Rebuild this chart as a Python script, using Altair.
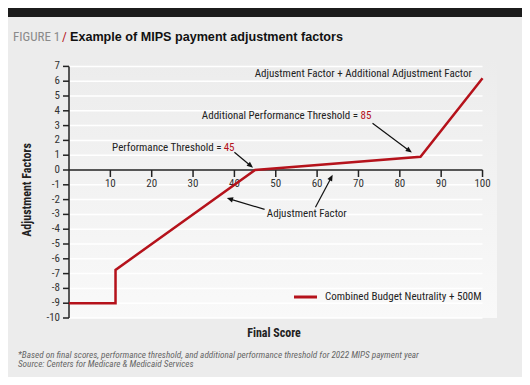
import math
import altair as alt
import pandas as pd

# ---------------- data ----------------
scores = [0, 11.25, 11.25, 45, 85, 100]
factors = [-9, -9, -6.75, 0, 0.9, 6.2]

x_ticks = [10, 20, 30, 40, 50, 60, 70, 80, 90, 100]
y_ticks = list(range(-10, 8))
grid_y = [v for v in y_ticks if v != 0]

# annotation arrows (data units): start -> end
arrow_x1 = [40.0, 73.4, 47.3, 59.6]
arrow_y1 = [1.2, 3.16, -2.66, -2.52]
arrow_x2 = [44.4, 82.8, 38.3, 63.7]
arrow_y2 = [0.18, 1.2, -1.91, -0.36]

# annotation labels (data units)
ann_text = ["Adjustment Factor + Additional Adjustment Factor",
            "Additional Performance Threshold =",
            "Performance Threshold =",
            "Adjustment Factor"]
ann_x = [97.4, 69.9, 36.9, 57.5]
ann_y = [6.47, 3.67, 1.47, -2.99]
ann_align = ["right", "right", "right", "center"]
red_text = ["85", "45"]
red_x = [70.5, 37.4]
red_y = [3.67, 1.47]

title_main = "Example of MIPS payment adjustment factors"
legend_label = "Combined Budget Neutrality + 500M"
foot1 = "*Based on final scores, performance threshold, and additional performance threshold for 2022 MIPS payment year"
foot2 = "Source: Centers for Medicare & Medicaid Services"

# ---------------- layout ----------------
W, H = 428, 259
XMAX, YMIN, YMAX = 103.5, -10, 7.5
PX = W / XMAX
PY = H / (YMAX - YMIN)
RED = "#b5121b"
BG = "#ececec"
FONT = "Liberation Sans Narrow, Roboto Condensed, DejaVu Sans Condensed, Arial, sans-serif"
TFONT = "Liberation Sans, Arial, Helvetica, sans-serif"

xs = alt.Scale(domain=[0, XMAX], nice=False, zero=False)
ys = alt.Scale(domain=[YMIN, YMAX], nice=False, zero=False)


def X(f):
    return alt.X(f, type="quantitative", scale=xs, axis=None)


def Y(f):
    return alt.Y(f, type="quantitative", scale=ys, axis=None)


one = pd.DataFrame({"a": [0]})

line_df = pd.DataFrame({"score": scores, "factor": factors, "i": range(len(scores))})
grid_df = pd.DataFrame({"y": grid_y, "x0": 0, "x1": 100})
yt_df = pd.DataFrame({"y": y_ticks, "lab": [str(v) for v in y_ticks]})
xt_df = pd.DataFrame({"x": x_ticks, "lab": [str(v) for v in x_ticks], "y0": 0})

rows = []
for x1, y1, x2, y2 in zip(arrow_x1, arrow_y1, arrow_x2, arrow_y2):
    sx = (x2 - x1) * PX
    sy = -(y2 - y1) * PY
    L = math.hypot(sx, sy)
    ux, uy = sx / L, sy / L
    hx = x2 - ux * 3.0 / PX
    hy = y2 + uy * 3.0 / PY
    ang = math.degrees(math.atan2(ux, -uy)) % 360
    rows.append({"x1": x1, "y1": y1, "hx": hx, "hy": hy, "ang": ang})
arr_df = pd.DataFrame(rows)

ann_df = pd.DataFrame({"t": ann_text, "x": ann_x, "y": ann_y, "al": ann_align})
red_df = pd.DataFrame({"t": red_text, "x": red_x, "y": red_y})

# background gradient panel
bg = alt.Chart(one).mark_rect(
    fill=alt.Gradient(gradient="linear",
                      stops=[alt.GradientStop(color=BG, offset=0),
                             alt.GradientStop(color="#f9f9f9", offset=1)],
                      x1=0, x2=0, y1=0, y2=1)
).encode(x=alt.value(-1), x2=alt.value(W), y=alt.value(0), y2=alt.value(H))

topbar = alt.Chart(one).mark_rect(color="#1c1c1c").encode(
    x=alt.value(-61), x2=alt.value(453), y=alt.value(-51), y2=alt.value(-42))

grid = alt.Chart(grid_df).mark_rule(color="white", strokeWidth=1.5).encode(
    x=X("x0"), x2="x1", y=Y("y"))

yaxis = alt.Chart(one).mark_rule(color="#222", strokeWidth=1.5).encode(
    x=alt.value(0), y=alt.YDatum(-10, scale=ys, axis=None), y2=alt.datum(7))
xaxis = alt.Chart(one).mark_rule(color="#222", strokeWidth=1.5).encode(
    y=alt.YDatum(0, scale=ys, axis=None), x=alt.XDatum(0, scale=xs, axis=None), x2=alt.datum(100))

ytick = alt.Chart(yt_df).mark_rule(color="#222", strokeWidth=1.5).encode(
    x=alt.value(-6), x2=alt.value(0), y=Y("y"))
ylab = alt.Chart(yt_df).mark_text(align="right", baseline="middle", font=FONT,
                                  fontSize=11, color="#333").encode(
    x=alt.value(-9), y=Y("y"), text="lab:N")

xtick = alt.Chart(xt_df).mark_rule(color="#222", strokeWidth=1.5, y2Offset=7).encode(
    x=X("x"), y=Y("y0"), y2="y0")
xlab = alt.Chart(xt_df).mark_text(align="center", baseline="middle", font=FONT,
                                  fontSize=11, color="#333", dy=14).encode(
    x=X("x"), y=Y("y0"), text="lab:N")

line = alt.Chart(line_df).mark_line(color=RED, strokeWidth=2.5).encode(
    x=X("score"), y=Y("factor"), order="i:Q")

arr_line = alt.Chart(arr_df).mark_rule(color="#111", strokeWidth=1.2).encode(
    x=X("x1"), y=Y("y1"), x2="hx", y2="hy")
arr_head = alt.Chart(arr_df).mark_point(
    shape="M0,-1L0.75,0.75L-0.75,0.75Z", filled=True, color="#111",
    size=50, opacity=1, strokeWidth=0).encode(
    x=X("hx"), y=Y("hy"), angle=alt.Angle("ang:Q", scale=None))

ann_layers = []
for al in ["right", "center"]:
    ann_layers.append(
        alt.Chart(ann_df[ann_df["al"] == al]).mark_text(
            align=al, baseline="middle", font=FONT, fontSize=11, color="#222").encode(
            x=X("x"), y=Y("y"), text="t:N"))
red_lab = alt.Chart(red_df).mark_text(align="left", baseline="middle", font=FONT,
                                      fontSize=11, color=RED).encode(
    x=X("x"), y=Y("y"), text="t:N")

leg_line = alt.Chart(one).mark_rule(color=RED, strokeWidth=3).encode(
    x=alt.value(225), x2=alt.value(248), y=alt.value(238))
leg_text = alt.Chart(one).mark_text(align="left", baseline="middle", font=FONT,
                                    fontSize=11, color="#222").encode(
    x=alt.value(256), y=alt.value(238), text=alt.value(legend_label))


def ptext(txt, x, y, **kw):
    return alt.Chart(one).mark_text(baseline="middle", **kw).encode(
        x=alt.value(x), y=alt.value(y), text=alt.value(txt))


t1 = ptext("FIGURE 1", -56, -22, align="left", font=FONT, fontSize=13, color="#8a8a8a")
t2 = ptext("/", -7, -22, align="left", font=FONT, fontSize=13, color=RED)
t3 = ptext(title_main, 1, -22, align="left", font=TFONT, fontSize=12.6, fontWeight="bold", color="#111")
ytitle = ptext("Adjustment Factors", -42, 131, align="center", font=FONT, fontSize=12,
               fontWeight="bold", color="#222", angle=270)
xtitle = ptext("Final Score", 205, 274, align="center", font=FONT, fontSize=12,
               fontWeight="bold", color="#222")
f1 = ptext(foot1, -51, 295.5, align="left", font=FONT, fontSize=9.2, fontStyle="italic", color="#666")
f2 = ptext(foot2, -51, 305, align="left", font=FONT, fontSize=9.2, fontStyle="italic", color="#666")

chart = alt.layer(
    bg, topbar, grid, yaxis, xaxis, ytick, ylab, xtick, xlab, line,
    arr_line, arr_head, *ann_layers, red_lab, leg_line, leg_text,
    t1, t2, t3, ytitle, xtitle, f1, f2
).properties(
    width=W, height=H,
    padding={"left": 61, "top": 51, "right": 25, "bottom": 59},
    autosize=alt.AutoSizeParams(type="none"),
    background=BG,
).configure_view(stroke=None)

chart.save("out.html", embed_options={"renderer": "svg", "actions": False})
